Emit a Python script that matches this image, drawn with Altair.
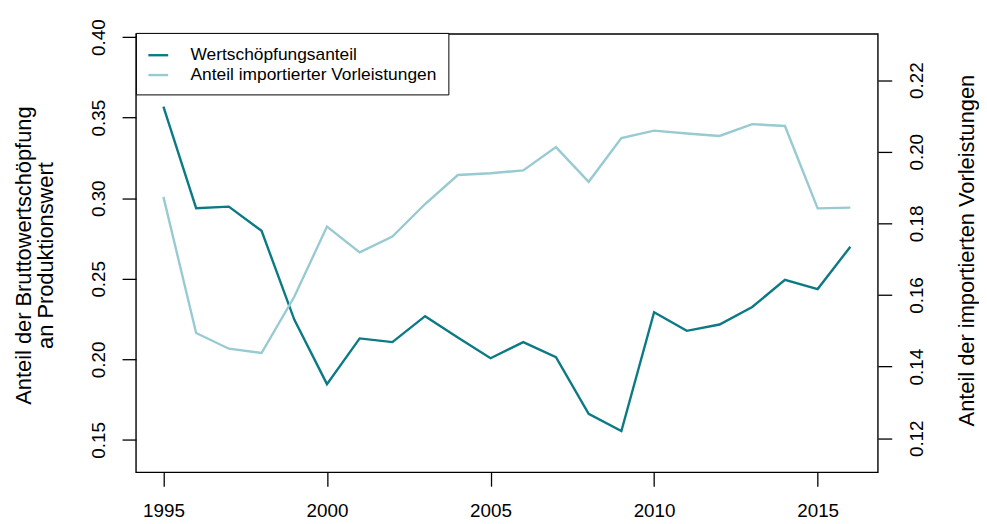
import altair as alt
import pandas as pd

# ---- data ----
years = list(range(1995, 2017))
wertschoepfung = [0.3568, 0.2938, 0.2948, 0.2798, 0.2247, 0.1846, 0.2130, 0.2107,
                  0.2268, 0.2136, 0.2007, 0.2107, 0.2013, 0.1662, 0.1555, 0.2292,
                  0.2177, 0.2216, 0.2325, 0.2494, 0.2436, 0.2699]
importiert = [0.1874, 0.1494, 0.1450, 0.1438, 0.1595, 0.1791, 0.1719, 0.1763,
              0.1854, 0.1935, 0.1940, 0.1948, 0.2013, 0.1916, 0.2038, 0.2059,
              0.2051, 0.2044, 0.2077, 0.2072, 0.1842, 0.1844]
series_names = ["Wertschöpfungsanteil", "Anteil importierter Vorleistungen"]
series_colors = ["#0B7A84", "#98CAD1"]
x_ticks = [1995, 2000, 2005, 2010, 2015]
left_ticks = [0.15, 0.20, 0.25, 0.30, 0.35, 0.40]
right_ticks = [0.12, 0.14, 0.16, 0.18, 0.20, 0.22]
left_title = ["Anteil der Bruttowertschöpfung", "an Produktionswert"]
right_title = "Anteil der importierten Vorleistungen"

df = pd.DataFrame({
    "Jahr": years + years,
    "Serie": [series_names[0]] * len(years) + [series_names[1]] * len(years),
    "Wert": wertschoepfung + importiert,
})

FONT = "Liberation Sans"
W, H = 748, 442

color = alt.Color(
    "Serie:N",
    scale=alt.Scale(domain=series_names, range=series_colors),
    legend=alt.Legend(
        title=None, orient="none", legendX=0, legendY=-1, direction="vertical",
        symbolType="stroke", symbolSize=400, symbolStrokeWidth=2.4,
        labelFont=FONT, labelFontSize=17.5, labelColor="black", labelOffset=21,
        labelLimit=0, padding=11, rowPadding=0,
        fillColor="white", strokeColor="black",
    ),
)

x = alt.X(
    "Jahr:Q",
    scale=alt.Scale(domain=[1994.16, 2016.84], nice=False, zero=False),
    axis=alt.Axis(
        values=x_ticks, format="d", title=None, grid=False, domain=False,
        tickColor="black", tickSize=14, tickWidth=1.3,
        labelFont=FONT, labelFontSize=19, labelColor="black",
        labelBaseline="top", labelPadding=16, labelFlush=False,
    ),
)

common_axis = dict(
    grid=False, domain=False, tickColor="black", tickSize=14, tickWidth=1.3,
    labelFont=FONT, labelFontSize=19, labelColor="black", labelAngle=270,
    labelAlign="center", format=".2f", labelFlush=False, labelOverlap=False,
    titleFont=FONT, titleFontSize=22, titleFontWeight="normal", titleColor="black",
    titleAngle=270, titleAlign="center", titleBaseline="alphabetic",
    titleLineHeight=22,
)

left = alt.Chart(df).transform_filter(
    alt.datum.Serie == series_names[0]
).mark_line(strokeWidth=2.4).encode(
    x=x,
    y=alt.Y(
        "Wert:Q",
        scale=alt.Scale(domain=[0.1299, 0.402], nice=False, zero=False),
        axis=alt.Axis(
            orient="left", values=left_ticks, title=left_title,
            labelBaseline="alphabetic", labelPadding=18,
            titleX=-106, titleY=223, **common_axis,
        ),
    ),
    color=color,
)

right = alt.Chart(df).transform_filter(
    alt.datum.Serie == series_names[1]
).mark_line(strokeWidth=2.4).encode(
    x=x,
    y=alt.Y(
        "Wert:Q",
        scale=alt.Scale(domain=[0.1105, 0.2329], nice=False, zero=False),
        axis=alt.Axis(
            orient="right", values=right_ticks, title=right_title,
            labelBaseline="top", labelPadding=16,
            titleX=96, titleY=218, **common_axis,
        ),
    ),
    color=color,
)

chart = alt.layer(left, right).resolve_scale(
    y="independent"
).properties(
    width=W, height=H,
    background="white",
    autosize=alt.AutoSizeParams(type="none"),
    padding={"left": 129, "top": 24, "right": 102, "bottom": 46},
).configure_view(
    stroke="black", strokeWidth=1.4
)

chart.save("out.html", embed_options={"renderer": "svg", "actions": False})
